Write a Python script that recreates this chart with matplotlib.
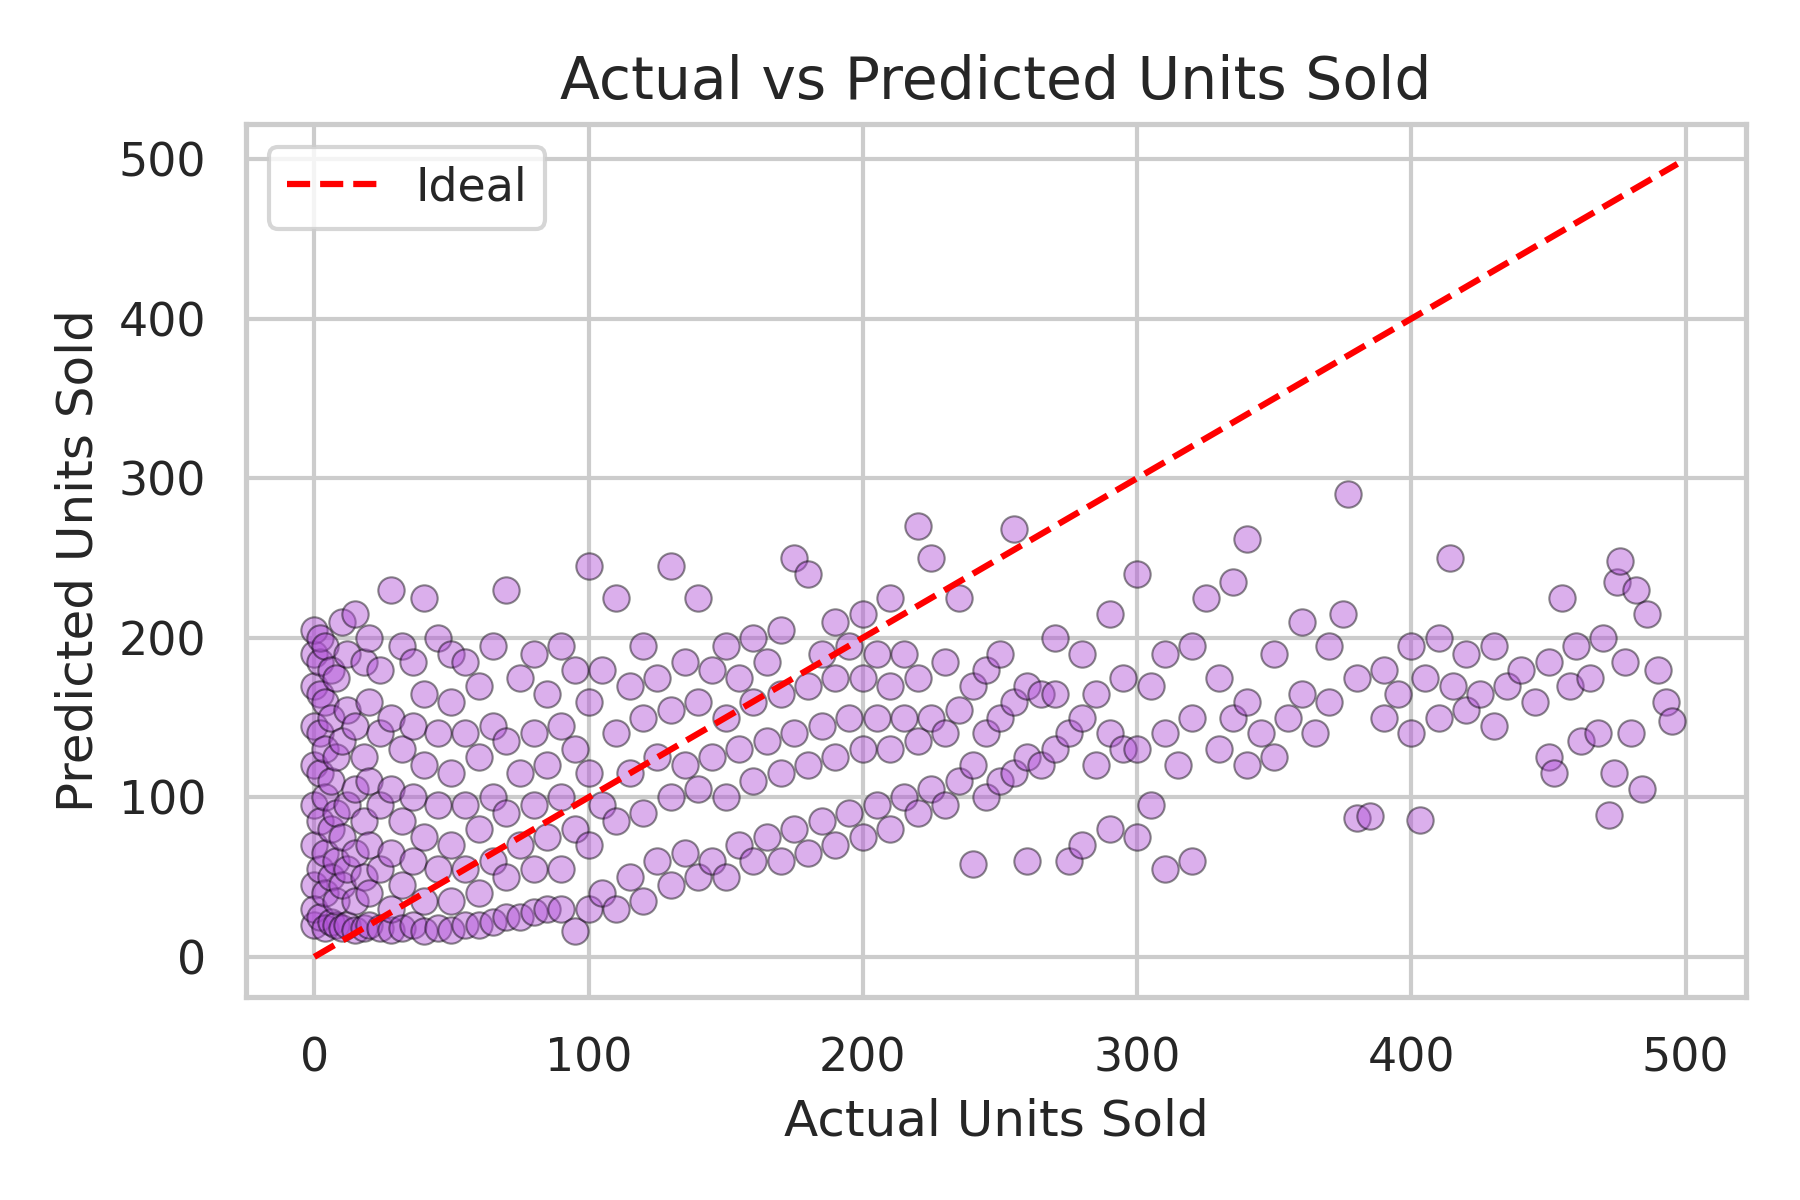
import numpy as np
import matplotlib.pyplot as plt
import seaborn as sns

sns.set_theme(style="whitegrid")

# points (estimated), grouped by region of actual units
actual_low = [0, 0, 0, 0, 0, 0, 0, 0, 0, 0, 2, 2, 2, 2, 2, 2, 2, 2, 4, 4, 4, 4, 4, 4, 4, 6, 6, 6, 6, 6, 6, 8, 8, 8, 8, 8, 8,
              10, 10, 10, 10, 10, 12, 12, 12, 12, 12, 15, 15, 15, 15, 15, 15, 18, 18, 18, 18, 18, 20, 20, 20, 20, 20, 20,
              24, 24, 24, 24, 24, 28, 28, 28, 28, 28, 28, 32, 32, 32, 32, 32, 36, 36, 36, 36, 36, 40, 40, 40, 40, 40, 40,
              45, 45, 45, 45, 45, 50, 50, 50, 50, 50, 50, 55, 55, 55, 55, 55, 60, 60, 60, 60, 60, 65, 65, 65, 65, 65,
              70, 70, 70, 70, 70, 75, 75, 75, 75, 80, 80, 80, 80, 80, 85, 85, 85, 85, 90, 90, 90, 90, 90, 95, 95, 95, 95]
pred_low = [20, 45, 70, 95, 120, 145, 170, 190, 205, 30, 25, 55, 85, 115, 140, 165, 185, 200, 18, 40, 65, 100, 130, 160, 195, 22, 50, 80, 110, 150, 180, 20, 35, 60, 90, 125, 175,
            18, 45, 75, 135, 210, 20, 55, 95, 155, 190, 17, 35, 65, 105, 145, 215, 18, 50, 85, 125, 185, 20, 40, 70, 110, 160, 200,
            18, 55, 95, 140, 180, 17, 30, 65, 105, 150, 230, 18, 45, 85, 130, 195, 20, 60, 100, 145, 185, 16, 35, 75, 120, 165, 225,
            18, 55, 95, 140, 200, 17, 35, 70, 115, 160, 190, 20, 55, 95, 140, 185, 20, 40, 80, 125, 170, 22, 60, 100, 145, 195,
            25, 50, 90, 135, 230, 25, 70, 115, 175, 28, 55, 95, 140, 190, 30, 75, 120, 165, 30, 55, 100, 145, 195, 16, 80, 130, 180]

actual_mid = [100, 100, 100, 100, 100, 105, 105, 105, 110, 110, 110, 110, 115, 115, 115, 120, 120, 120, 120, 125, 125, 125,
              130, 130, 130, 130, 135, 135, 135, 140, 140, 140, 140, 145, 145, 145, 150, 150, 150, 150, 155, 155, 155,
              160, 160, 160, 160, 165, 165, 165, 170, 170, 170, 170, 175, 175, 175, 180, 180, 180, 180, 185, 185, 185,
              190, 190, 190, 190, 195, 195, 195, 200, 200, 200, 200, 205, 205, 205, 210, 210, 210, 210, 215, 215, 215,
              220, 220, 220, 220, 225, 225, 225, 230, 230, 230, 235, 235, 235, 240, 240, 240, 245, 245, 245, 250, 250, 250,
              255, 255, 255, 260, 260, 260, 265, 265, 270, 270, 270, 275, 275, 280, 280, 280, 285, 285, 290, 290, 290, 295, 295]
pred_mid = [30, 70, 115, 160, 245, 40, 95, 180, 30, 85, 140, 225, 50, 115, 170, 35, 90, 150, 195, 60, 125, 175,
            45, 100, 155, 245, 65, 120, 185, 50, 105, 160, 225, 60, 125, 180, 50, 100, 150, 195, 70, 130, 175,
            60, 110, 160, 200, 75, 135, 185, 60, 115, 165, 205, 80, 140, 250, 65, 120, 170, 240, 85, 145, 190,
            70, 125, 175, 210, 90, 150, 195, 75, 130, 175, 215, 95, 150, 190, 80, 130, 170, 225, 100, 150, 190,
            90, 135, 175, 270, 105, 150, 250, 95, 140, 185, 110, 155, 225, 58, 120, 170, 100, 140, 180, 110, 150, 190,
            115, 160, 268, 60, 125, 170, 120, 165, 130, 165, 200, 60, 140, 70, 150, 190, 120, 165, 80, 140, 215, 130, 175]

actual_high = [300, 300, 300, 305, 305, 310, 310, 310, 315, 320, 320, 320, 325, 330, 330, 335, 335, 340, 340, 340, 345, 350, 350,
               355, 360, 360, 365, 370, 370, 375, 377, 380, 380, 385, 390, 390, 395, 400, 400, 403, 405, 410, 410, 414,
               415, 420, 420, 425, 430, 430, 435, 440, 445, 450, 450, 452, 455, 458, 460, 462, 465, 468, 470, 472, 474,
               475, 476, 478, 480, 482, 484, 486, 490, 493, 495]
pred_high = [75, 130, 240, 95, 170, 55, 140, 190, 120, 60, 150, 195, 225, 130, 175, 150, 235, 120, 160, 262, 140, 125, 190,
             150, 165, 210, 140, 160, 195, 215, 290, 87, 175, 88, 150, 180, 165, 140, 195, 86, 175, 150, 200, 250,
             170, 155, 190, 165, 145, 195, 170, 180, 160, 125, 185, 115, 225, 170, 195, 135, 175, 140, 200, 89, 115,
             235, 248, 185, 140, 230, 105, 215, 180, 160, 148]

actual = actual_low + actual_mid + actual_high
predicted = pred_low + pred_mid + pred_high

fig, ax = plt.subplots(figsize=(6, 4), dpi=300)
ax.scatter(actual, predicted, s=40, color='#b04fd6', alpha=0.45, edgecolor='black', linewidth=0.5)
ax.plot([0, 497], [0, 497], color='red', linestyle='--', label='Ideal')
ax.set_title('Actual vs Predicted Units Sold', fontsize=14)
ax.set_xlabel('Actual Units Sold')
ax.set_ylabel('Predicted Units Sold')
ax.set_xticks([0, 100, 200, 300, 400, 500])
ax.set_yticks([0, 100, 200, 300, 400, 500])
ax.set_xlim(-25, 522)
ax.set_ylim(-25, 522)
ax.legend(loc='upper left')
plt.tight_layout()
plt.savefig('out.png')
